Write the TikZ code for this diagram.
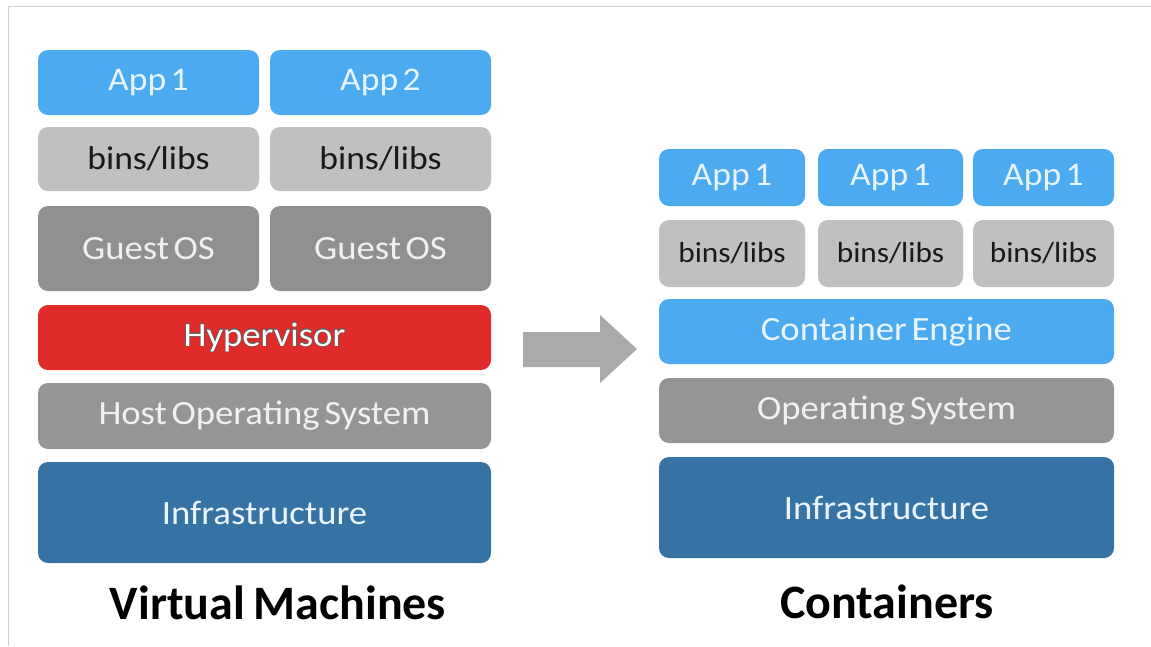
\documentclass[tikz,border=0pt]{standalone}
\usepackage{fontspec}
\setmainfont[WordSpace=0.55, FakeStretch=1.08]{Carlito}
\newfontfamily\titlefont[WordSpace=0.8]{Carlito}
\usepackage{contour}
\contourlength{0.35pt}
\contournumber{24}

\definecolor{appblue}{HTML}{4BAAF0}
\definecolor{apptext}{HTML}{E9F4FC}
\definecolor{libgray}{HTML}{C0C0C0}
\definecolor{guestgray}{HTML}{8F9091}
\definecolor{hostgray}{HTML}{959596}
\definecolor{hyperred}{HTML}{E02B2B}
\definecolor{infrablue}{HTML}{3673A4}
\definecolor{arrowgray}{HTML}{AAAAAA}
\definecolor{framegray}{HTML}{CFCFCF}
\definecolor{outlinegray}{HTML}{606060}

\newcommand{\fsz}[1]{\fontsize{#1}{#1}\selectfont}

\tikzset{
  layer/.style={rectangle, rounded corners=10pt, draw=none, inner sep=0pt,
    align=center},
  appbox/.style={layer, fill=appblue, text=apptext, font=\fsz{33}},
  libbox/.style={layer, fill=libgray, text=black!90, font=\fsz{33}},
  guestbox/.style={layer, fill=guestgray, text=white!94!black, font=\fsz{34}},
  hostbox/.style={layer, fill=hostgray, text=white!94!black, font=\fsz{34}},
  hyperbox/.style={layer, fill=hyperred, font=\fsz{34}},
  infrabox/.style={layer, fill=infrablue, text=apptext, font=\fsz{34}},
  title/.style={font=\titlefont\bfseries\fsz{48}, text=black, inner sep=0pt},
  frame/.style={draw=framegray, line width=1.5pt},
}

\begin{document}
\begin{tikzpicture}[x=1pt, y=-1pt]
\useasboundingbox (0,0) rectangle (1151,646);

% page frame
\draw[frame] (8.5,646) -- (8.5,6.5) -- (1151,6.5);

% ---- virtual machine stack ----
\node[appbox, minimum width=221pt, minimum height=65pt] (vmapp1) at (148.5,82.5) {App 1};
\node[appbox, minimum width=221pt, minimum height=65pt] (vmapp2) at (380.5,82.5) {App 2};
\node[libbox, minimum width=221pt, minimum height=64pt] (vmlib1) at (148.5,159) {bins/libs};
\node[libbox, minimum width=221pt, minimum height=64pt] (vmlib2) at (380.5,159) {bins/libs};
\node[guestbox, minimum width=221pt, minimum height=85pt] (guest1) at (148.5,248.5) {Guest OS};
\node[guestbox, minimum width=221pt, minimum height=85pt] (guest2) at (380.5,248.5) {Guest OS};
\node[hyperbox, minimum width=453pt, minimum height=65pt] (hyper) at (264.5,337.5)
  {\contour{outlinegray}{\textcolor{white}{Hypervisor}}};
\node[hostbox, minimum width=453pt, minimum height=66pt] (hostos) at (264.5,416) {Host Operating System};
\node[infrabox, minimum width=453pt, minimum height=101pt] (vminfra) at (264.5,512.5) {Infrastructure};
\node[title] (vmtitle) at (278,603) {Virtual Machines};

% ---- transition arrow ----
\fill[arrowgray] (523,332) -- (600,332) -- (600,315) -- (637,349)
  -- (600,383) -- (600,367) -- (523,367) -- cycle;

% ---- container stack ----
\node[appbox, minimum width=146pt, minimum height=57pt] (capp1) at (732,177.5) {App 1};
\node[appbox, minimum width=145pt, minimum height=57pt] (capp2) at (890.5,177.5) {App 1};
\node[appbox, minimum width=141pt, minimum height=57pt] (capp3) at (1043.5,177.5) {App 1};
\node[libbox, font=\fsz{29}, minimum width=146pt, minimum height=67pt] (clib1) at (732,253.5) {bins/libs};
\node[libbox, font=\fsz{29}, minimum width=145pt, minimum height=67pt] (clib2) at (890.5,253.5) {bins/libs};
\node[libbox, font=\fsz{29}, minimum width=141pt, minimum height=67pt] (clib3) at (1043.5,253.5) {bins/libs};
\node[appbox, font=\fsz{34}, minimum width=455pt, minimum height=65pt] (engine) at (886.5,331.5) {Container Engine};
\node[hostbox, minimum width=455pt, minimum height=65pt] (cos) at (886.5,410.5) {Operating System};
\node[infrabox, minimum width=455pt, minimum height=101pt] (cinfra) at (886.5,507.5) {Infrastructure};
\node[title] (ctitle) at (887,602) {Containers};
\end{tikzpicture}
\end{document}
